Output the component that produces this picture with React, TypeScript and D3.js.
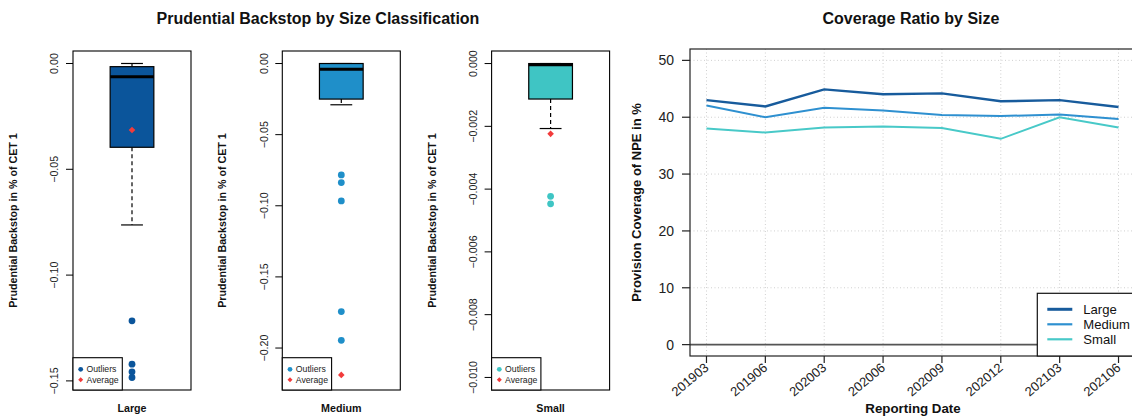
import React from "react";
import * as d3 from "d3";

// ---------- Data: Prudential backstop box plots ----------
const sizeClasses = ["Large", "Medium", "Small"];
const boxUpperWhisker = [0.0, 0.0, 0.0];
const boxQ3 = [-0.0015, 0.0, 0.0];
const boxMedian = [-0.0063, -0.004, -0.00004];
const boxQ1 = [-0.0396, -0.025, -0.00113];
const boxLowerWhisker = [-0.0763, -0.029, -0.00207];
const boxMeans = [-0.0314, -0.2189, -0.00224];
const outliersLarge = [-0.1216, -0.1421, -0.1457, -0.1484];
const outliersMedium = [-0.0783, -0.0837, -0.0966, -0.1744, -0.1946];
const outliersSmall = [-0.00423, -0.00447];
const yLimits: [number, number][] = [
  [-0.1543, 0.0059],
  [-0.2295, 0.0088],
  [-0.0104, 0.0004],
];
const ticksLarge = [0, -0.05, -0.1, -0.15];
const ticksMedium = [0, -0.05, -0.1, -0.15, -0.2];
const ticksSmall = [0, -0.002, -0.004, -0.006, -0.008, -0.01];
const tickDecimals = [2, 2, 3];
const boxColors = ["#0b559b", "#1f8fc9", "#3fc5c4"];

// ---------- Data: Coverage ratio lines ----------
const reportingDates = ["201903", "201906", "202003", "202006", "202009", "202012", "202103", "202106"];
const coverageLarge = [43.0, 41.9, 44.9, 44.05, 44.2, 42.8, 43.0, 41.8];
const coverageMedium = [42.05, 40.0, 41.65, 41.2, 40.4, 40.2, 40.5, 39.7];
const coverageSmall = [38.0, 37.3, 38.2, 38.35, 38.1, 36.2, 40.0, 38.2];
const coverageTicks = [0, 10, 20, 30, 40, 50];
const lineNames = ["Large", "Medium", "Small"];
const lineColors = ["#175b9c", "#2e90d0", "#48c9c8"];

const FONT = "'Liberation Sans', Arial, Helvetica, sans-serif";
const fmtMinus = (v: number, dec: number) => {
  const s = Math.abs(v).toFixed(dec);
  return v < -1e-12 ? "\u2212" + s : s;
};

function Diamond({ x, y, r, fill }: { x: number; y: number; r: number; fill: string }) {
  return <path d={`M${x},${y - r}L${x + r},${y}L${x},${y + r}L${x - r},${y}Z`} fill={fill} />;
}

function BoxPanel({ i }: { i: number }) {
  const left = 73 + i * 209.3;
  const width = 118;
  const top = 51;
  const bottom = 390;
  const y = d3.scaleLinear().domain(yLimits[i]).range([bottom, top]);
  const x = d3.scaleLinear().domain([0.46, 1.54]).range([left, left + width]);
  const cx = x(1);
  const bw = x(1.2) - x(0.8);
  const cap = bw / 2;
  const ticks = [ticksLarge, ticksMedium, ticksSmall][i];
  const outs = [outliersLarge, outliersMedium, outliersSmall][i];
  const col = boxColors[i];
  return (
    <g>
      {/* whiskers */}
      <line x1={cx} x2={cx} y1={y(boxQ3[i])} y2={y(boxUpperWhisker[i])} stroke="#000" strokeWidth={1.2} strokeDasharray="4,3" />
      <line x1={cx} x2={cx} y1={y(boxQ1[i])} y2={y(boxLowerWhisker[i])} stroke="#000" strokeWidth={1.2} strokeDasharray="4,3" />
      <line x1={cx - cap / 2} x2={cx + cap / 2} y1={y(boxUpperWhisker[i])} y2={y(boxUpperWhisker[i])} stroke="#000" strokeWidth={1.2} />
      <line x1={cx - cap / 2} x2={cx + cap / 2} y1={y(boxLowerWhisker[i])} y2={y(boxLowerWhisker[i])} stroke="#000" strokeWidth={1.2} />
      {/* box */}
      <rect x={cx - bw / 2} y={y(boxQ3[i])} width={bw} height={y(boxQ1[i]) - y(boxQ3[i])} fill={col} stroke="#000" strokeWidth={1.2} />
      <line x1={cx - bw / 2} x2={cx + bw / 2} y1={y(boxMedian[i])} y2={y(boxMedian[i])} stroke="#000" strokeWidth={3} />
      {/* outliers */}
      {outs.map((v, k) => (
        <circle key={k} cx={cx} cy={y(v)} r={3.4} fill={col} />
      ))}
      {/* mean */}
      <Diamond x={cx} y={y(boxMeans[i])} r={3.3} fill="#f23b3b" />
      {/* frame */}
      <rect x={left} y={top} width={width} height={bottom - top} fill="none" stroke="#000" strokeWidth={1.1} />
      {/* y axis ticks */}
      {ticks.map((t) => (
        <g key={t}>
          <line x1={left - 7} x2={left} y1={y(t)} y2={y(t)} stroke="#000" strokeWidth={1} />
          <text
            x={left - 14.5}
            y={y(t)}
            transform={`rotate(-90, ${left - 14.5}, ${y(t)})`}
            textAnchor="middle"
            fontSize={10.7}
            fontFamily={FONT}
            fill="#222"
          >
            {fmtMinus(t, tickDecimals[i])}
          </text>
        </g>
      ))}
      <text
        x={left - 56}
        y={(top + bottom) / 2}
        transform={`rotate(-90, ${left - 56}, ${(top + bottom) / 2})`}
        textAnchor="middle"
        fontSize={10.7}
        fontWeight="bold"
        fontFamily={FONT}
        fill="#111"
      >
        Prudential Backstop in % of CET 1
      </text>
      <text x={cx} y={412} textAnchor="middle" fontSize={10.7} fontWeight="bold" fontFamily={FONT} fill="#111">
        {sizeClasses[i]}
      </text>
      {/* legend */}
      <rect x={left} y={357.7} width={49.3} height={bottom - 357.7} fill="#fff" stroke="#000" strokeWidth={1.1} />
      <circle cx={left + 7.7} cy={369.3} r={2.4} fill={col} />
      <Diamond x={left + 7.7} y={379.7} r={2.5} fill="#f23b3b" />
      <text x={left + 13.5} y={369.3} dominantBaseline="central" fontSize={8.7} fontFamily={FONT} fill="#222">
        Outliers
      </text>
      <text x={left + 13.5} y={379.9} dominantBaseline="central" fontSize={8.7} fontFamily={FONT} fill="#222">
        Average
      </text>
    </g>
  );
}

function LinePanel() {
  const left = 690;
  const right = 1135;
  const top = 49;
  const bottom = 356;
  const x = d3.scaleLinear().domain([-0.28, reportingDates.length - 1 + 0.28]).range([left, right]);
  const y = d3.scaleLinear().domain([-2, 52]).range([bottom, top]);
  const series = [coverageLarge, coverageMedium, coverageSmall];
  const widths = [2.4, 2, 2];
  const line = d3
    .line<number>()
    .x((_, k) => x(k))
    .y((v) => y(v));
  return (
    <g>
      {/* grid */}
      {reportingDates.map((_, k) => (
        <line key={"gx" + k} x1={x(k)} x2={x(k)} y1={top} y2={bottom} stroke="#cfcfcf" strokeWidth={1} strokeDasharray="1,2.5" />
      ))}
      {coverageTicks.filter((t) => t > 0).map((t) => (
        <line key={"gy" + t} x1={left} x2={right} y1={y(t)} y2={y(t)} stroke="#cfcfcf" strokeWidth={1} strokeDasharray="1,2.5" />
      ))}
      <line x1={left} x2={right} y1={y(0)} y2={y(0)} stroke="#555" strokeWidth={1.6} />
      {series.map((s, k) => (
        <path key={k} d={line(s) || ""} fill="none" stroke={lineColors[k]} strokeWidth={widths[k]} />
      ))}
      <rect x={left} y={top} width={right - left} height={bottom - top} fill="none" stroke="#222" strokeWidth={1.2} />
      {/* y ticks */}
      {coverageTicks.map((t) => (
        <g key={t}>
          <line x1={left - 8} x2={left} y1={y(t)} y2={y(t)} stroke="#222" strokeWidth={1.2} />
          <text x={674} y={y(t)} dominantBaseline="central" textAnchor="end" fontSize={14} fontFamily={FONT} fill="#222">
            {t}
          </text>
        </g>
      ))}
      {/* x ticks */}
      {reportingDates.map((d, k) => (
        <g key={d}>
          <line x1={x(k)} x2={x(k)} y1={bottom} y2={bottom + 7} stroke="#222" strokeWidth={1.2} />
          <text
            x={x(k) + 3}
            y={369}
            transform={`rotate(-40, ${x(k) + 3}, 369)`}
            textAnchor="end"
            fontSize={13}
            fontFamily={FONT}
            fill="#222"
          >
            {d}
          </text>
        </g>
      ))}
      <text x={913} y={413} textAnchor="middle" fontSize={13.3} fontWeight="bold" fontFamily={FONT} fill="#111">
        Reporting Date
      </text>
      <text
        x={641}
        y={(top + bottom) / 2}
        transform={`rotate(-90, 641, ${(top + bottom) / 2})`}
        textAnchor="middle"
        fontSize={13}
        fontWeight="bold"
        fontFamily={FONT}
        fill="#111"
      >
        Provision Coverage of NPE in %
      </text>
      {/* legend */}
      <rect x={1037.3} y={293.3} width={110} height={bottom - 293.3} fill="#fff" stroke="#111" strokeWidth={1.2} />
      {lineNames.map((n, k) => (
        <g key={n}>
          <line x1={1047.3} x2={1072.3} y1={309.3 + k * 15} y2={309.3 + k * 15} stroke={lineColors[k]} strokeWidth={k === 0 ? 3 : 2.2} />
          <text x={1083.3} y={309.3 + k * 15} dominantBaseline="central" fontSize={13.1} fontFamily={FONT} fill="#111">
            {n}
          </text>
        </g>
      ))}
    </g>
  );
}

export default function App() {
  return (
    <svg
      width={1132}
      height={418}
      style={{ position: "absolute", left: 0, top: 0, background: "#fff", overflow: "hidden" }}
    >
      <rect x={0} y={0} width={1132} height={418} fill="#fff" />
      <text x={318} y={24} textAnchor="middle" fontSize={16} fontWeight="bold" fontFamily={FONT} fill="#111">
        Prudential Backstop by Size Classification
      </text>
      <text x={911} y={24} textAnchor="middle" fontSize={16} fontWeight="bold" fontFamily={FONT} fill="#111">
        Coverage Ratio by Size
      </text>
      {sizeClasses.map((_, i) => (
        <BoxPanel key={i} i={i} />
      ))}
      <LinePanel />
    </svg>
  );
}
